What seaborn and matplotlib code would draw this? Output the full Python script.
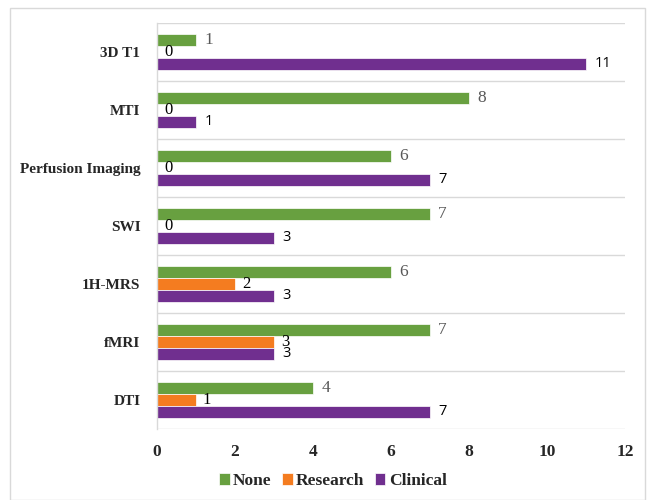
import matplotlib
matplotlib.use("Agg")
import matplotlib.pyplot as plt
from matplotlib.patches import Rectangle
import seaborn as sns
import pandas as pd

categories = ["3D T1", "MTI", "Perfusion Imaging", "SWI", "1H-MRS", "fMRI", "DTI"]
none_vals = [1, 8, 6, 7, 6, 7, 4]
research_vals = [0, 0, 0, 0, 2, 3, 1]
clinical_vals = [11, 1, 7, 3, 3, 3, 7]
series = ["None", "Research", "Clinical"]
colors = ["#68A040", "#F47C20", "#702F8F"]
x_ticks = [0, 2, 4, 6, 8, 10, 12]

df = pd.DataFrame({
    "category": categories * 3,
    "value": none_vals + research_vals + clinical_vals,
    "series": [s for s in series for _ in categories],
})

sns.set_style("white")
serif = ["Liberation Serif", "DejaVu Serif"]

fig = plt.figure(figsize=(6.49, 5.0), dpi=100)
ax = fig.add_axes([157 / 649, 1 - 429 / 500, (625 - 157) / 649, (429 - 23) / 500])

sns.barplot(data=df, y="category", x="value", hue="series", order=categories,
            hue_order=series, palette=colors, saturation=1, orient="h", width=0.62,
            edgecolor="white", linewidth=0.5, ax=ax)

ax.set_xlim(0, 12)
ax.set_ylim(len(categories) - 0.5, -0.5)
ax.set_xticks(x_ticks)
ax.set_xticklabels([str(t) for t in x_ticks], fontfamily=serif,
                   fontweight="bold", fontsize=12.5)
ax.set_yticks(range(len(categories)))
ax.set_yticklabels(categories, fontfamily=serif, fontweight="bold", fontsize=11)
ax.tick_params(axis="x", length=0, pad=11)
ax.tick_params(axis="y", length=0, pad=12)
ax.set_xlabel("")
ax.set_ylabel("")

# band separators between categories
for b in range(len(categories) + 1):
    ax.axhline(b - 0.5, color="#D9D9D9", lw=1.0, zorder=0)
for side in ["top", "right", "bottom"]:
    ax.spines[side].set_visible(False)
ax.spines["left"].set_color("#D9D9D9")
ax.spines["left"].set_linewidth(1.0)

# value labels
c_none, c_res, c_cli = ax.containers[:3]
ax.bar_label(c_none, labels=[str(v) for v in none_vals], padding=6,
             fontfamily=serif, fontsize=12.5, color="#595959")
ax.bar_label(c_res, labels=[str(v) for v in research_vals], padding=5,
             fontfamily=serif, fontsize=12, color="#000000")
ax.bar_label(c_cli, labels=[str(v) for v in clinical_vals], padding=6,
             fontfamily=["Open Sans", "DejaVu Sans"], fontsize=10.5, color="#000000")

handles, labels = ax.get_legend_handles_labels()
if ax.legend_ is not None:
    ax.legend_.remove()
fig.legend(handles, labels, loc="center", bbox_to_anchor=(333 / 649, 1 - 481 / 500),
           ncol=3, frameon=False, handlelength=0.6, handleheight=0.7,
           handletextpad=0.2, columnspacing=0.6,
           prop={"family": serif, "weight": "bold", "size": 12.5})

# outer chart border
fig.patches.append(Rectangle((10 / 649, 0), (645 - 10) / 649, 1 - 8 / 500,
                             transform=fig.transFigure, fill=False,
                             edgecolor="#D9D9D9", lw=1.0))

fig.savefig("out.png", dpi=100)
